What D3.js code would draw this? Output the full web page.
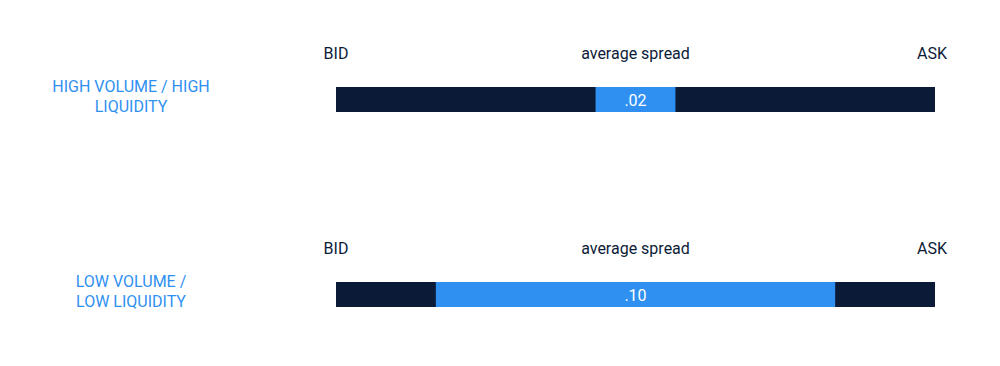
<!DOCTYPE html>
<html>
<head>
<meta charset="utf-8">
<script src="https://cdn.jsdelivr.net/npm/d3@7"></script>
<style>
  body { margin: 0; background: #fff; }
  text { font-family: Roboto, "DejaVu Sans", sans-serif; }
</style>
</head>
<body>
<div id="chart"></div>
<script>
// market rows and the average spread for each
var rows = ["high", "low"];
var rowLabels = [["HIGH VOLUME / HIGH", "LIQUIDITY"], ["LOW VOLUME /", "LOW LIQUIDITY"]];
var spreads = [0.02, 0.10];
var edgeLabels = ["BID", "average spread", "ASK"];
var priceRange = [-0.075, 0.075]; // bid ... ask around mid price

var width = 1000, height = 366;
var dark = "#0b1b37", blue = "#2f90f1";

var svg = d3.select("#chart").append("svg")
    .attr("width", width)
    .attr("height", height);

var x = d3.scaleLinear()
    .domain(priceRange)
    .range([336, 935]);

var y = d3.scalePoint()
    .domain(rows)
    .range([99.5, 294.5]);

var barH = 25;
var fmt = function(v) { return d3.format(".2f")(v).replace(/^0/, ""); };

var row = svg.selectAll("g.row")
    .data(rows)
    .enter().append("g")
    .attr("class", "row")
    .attr("transform", function(d) { return "translate(0," + y(d) + ")"; });

// full bid-ask bar
row.append("rect")
    .attr("x", x(priceRange[0]))
    .attr("y", -barH / 2)
    .attr("width", x(priceRange[1]) - x(priceRange[0]))
    .attr("height", barH)
    .attr("fill", dark);

// spread segment
row.append("rect")
    .attr("x", function(d, i) { return x(-spreads[i] / 2); })
    .attr("y", -barH / 2)
    .attr("width", function(d, i) { return x(spreads[i] / 2) - x(-spreads[i] / 2); })
    .attr("height", barH)
    .attr("fill", blue);

row.append("text")
    .attr("x", x(0))
    .attr("y", 6)
    .attr("text-anchor", "middle")
    .attr("fill", "#fff")
    .style("font-size", "16px")
    .text(function(d, i) { return fmt(spreads[i]); });

// BID / average spread / ASK
var edgeX = [x(priceRange[0]), x(0), x(priceRange[1]) - 3];
edgeLabels.forEach(function(t, k) {
    row.append("text")
        .attr("x", edgeX[k])
        .attr("y", -barH / 2 - 28)
        .attr("text-anchor", "middle")
        .attr("fill", dark)
        .style("font-size", "16px")
        .text(t);
});

// row labels on the left
var lab = row.append("text")
    .attr("text-anchor", "middle")
    .attr("fill", blue)
    .style("font-size", "16px");
lab.selectAll("tspan")
    .data(function(d, i) { return rowLabels[i]; })
    .enter().append("tspan")
    .attr("x", 131)
    .attr("y", function(d, j) { return -7.5 + j * 19.5; })
    .text(function(d) { return d; });
</script>
</body>
</html>
